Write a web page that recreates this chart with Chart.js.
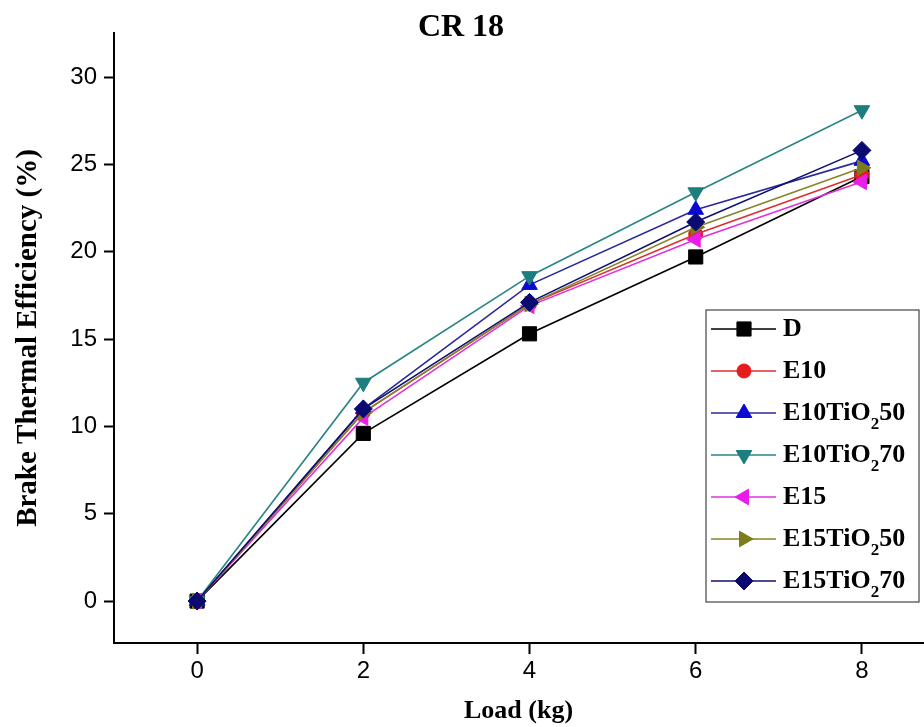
<!DOCTYPE html>
<html>
<head>
<meta charset="utf-8">
<script src="https://cdn.jsdelivr.net/npm/chart.js@4/dist/chart.umd.min.js"></script>
<style>
html,body{margin:0;padding:0;background:#fff;overflow:hidden;}
#wrap{width:924px;height:727px;position:relative;overflow:hidden;}
</style>
</head>
<body>
<div id="wrap"><canvas id="c" width="934" height="727"></canvas></div>
<script>
// ---- data ----
const loads = [0, 2, 4, 6, 8];
const D          = [0, 9.6, 15.3, 19.7, 24.3];
const E10        = [0, 10.8, 17.0, 21.0, 24.4];
const E10TiO2_50 = [0, 11.0, 18.1, 22.4, 25.2];
const E10TiO2_70 = [0, 12.5, 18.6, 23.4, 28.1];
const E15        = [0, 10.5, 16.9, 20.7, 24.0];
const E15TiO2_50 = [0, 10.8, 17.0, 21.4, 24.8];
const E15TiO2_70 = [0, 11.0, 17.1, 21.7, 25.8];
const xTicks = [0, 2, 4, 6, 8];
const yTicks = [0, 5, 10, 15, 20, 25, 30];
const chartTitle = 'CR 18';
const xTitle = 'Load (kg)';
const yTitle = 'Brake Thermal Efficiency (%)';
// legend labels: [main, subscript, tail]
const seriesNames = [
  ['D', '', ''],
  ['E10', '', ''],
  ['E10TiO', '2', '50'],
  ['E10TiO', '2', '70'],
  ['E15', '', ''],
  ['E15TiO', '2', '50'],
  ['E15TiO', '2', '70']
];

const seriesValues = [D, E10, E10TiO2_50, E10TiO2_70, E15, E15TiO2_50, E15TiO2_70];
const styles = [
  {line:'#000000', fill:'#000000', shape:'rect', r:10, rot:0},
  {line:'#d83030', fill:'#e51c1c', shape:'circle', r:7, rot:0},
  {line:'#2a2a9a', fill:'#0a0ad2', shape:'triangle', r:9, rot:0},
  {line:'#2b8585', fill:'#1c7e7e', shape:'triangle', r:9, rot:180},
  {line:'#e030e0', fill:'#e81ee8', shape:'triangle', r:9, rot:-90},
  {line:'#85852a', fill:'#7c7c1c', shape:'triangle', r:9, rot:90},
  {line:'#101070', fill:'#0a0a70', shape:'rectRot', r:9, rot:0}
];

const datasets = seriesValues.map((vals, i) => ({
  label: seriesNames[i].join(''),
  data: loads.map((x, j) => ({x: x, y: vals[j]})),
  borderColor: styles[i].line,
  backgroundColor: styles[i].fill,
  pointBackgroundColor: styles[i].fill,
  pointBorderColor: styles[i].fill,
  pointStyle: styles[i].shape,
  pointRadius: styles[i].r,
  pointRotation: styles[i].rot,
  pointBorderWidth: 1,
  borderWidth: 1.6,
  tension: 0,
  fill: false,
  clip: false,
  order: seriesValues.length - 1 - i
}));

function drawMarker(ctx, st, x, y) {
  ctx.save();
  ctx.translate(x, y);
  ctx.rotate(st.rot * Math.PI / 180);
  ctx.fillStyle = st.fill;
  ctx.strokeStyle = st.fill;
  ctx.lineWidth = 1;
  const r = st.r;
  ctx.beginPath();
  if (st.shape === 'rect') {
    const s = r * Math.SQRT1_2;
    ctx.rect(-s, -s, 2*s, 2*s);
  } else if (st.shape === 'circle') {
    ctx.arc(0, 0, r, 0, Math.PI*2);
  } else if (st.shape === 'triangle') {
    ctx.moveTo(0, -r);
    ctx.lineTo(r*Math.cos(Math.PI/6), r*0.5);
    ctx.lineTo(-r*Math.cos(Math.PI/6), r*0.5);
    ctx.closePath();
  } else if (st.shape === 'rectRot') {
    ctx.moveTo(0, -r); ctx.lineTo(r, 0); ctx.lineTo(0, r); ctx.lineTo(-r, 0); ctx.closePath();
  }
  ctx.fill();
  ctx.stroke();
  ctx.restore();
}

const overlay = {
  id: 'overlay',
  afterDraw(chart) {
    const ctx = chart.ctx;
    ctx.save();
    // title
    ctx.fillStyle = '#000';
    ctx.font = 'bold 32px "Liberation Serif"';
    ctx.textAlign = 'center';
    ctx.textBaseline = 'middle';
    ctx.fillText(chartTitle, 461, 28);
    // legend box
    const bx = 706, by = 310, bw = 213, bh = 292;
    ctx.fillStyle = '#fff';
    ctx.fillRect(bx, by, bw, bh);
    ctx.strokeStyle = '#444';
    ctx.lineWidth = 1.2;
    ctx.strokeRect(bx, by, bw, bh);
    const rowY0 = 329, rowH = 42;
    seriesNames.forEach((nm, i) => {
      const y = rowY0 + i * rowH;
      const st = styles[i];
      ctx.strokeStyle = st.line;
      ctx.lineWidth = 1.6;
      ctx.beginPath();
      ctx.moveTo(711, y); ctx.lineTo(776, y);
      ctx.stroke();
      drawMarker(ctx, st, 744, y);
      ctx.fillStyle = '#000';
      ctx.textAlign = 'left';
      ctx.textBaseline = 'middle';
      ctx.font = 'bold 26px "Liberation Serif"';
      let tx = 783;
      ctx.fillText(nm[0], tx, y);
      tx += ctx.measureText(nm[0]).width;
      if (nm[1]) {
        ctx.font = 'bold 17px "Liberation Serif"';
        ctx.fillText(nm[1], tx, y + 12);
        tx += ctx.measureText(nm[1]).width;
        ctx.font = 'bold 26px "Liberation Serif"';
        ctx.fillText(nm[2], tx, y);
      }
    });
    ctx.restore();
  }
};

new Chart(document.getElementById('c'), {
  type: 'line',
  data: { datasets: datasets },
  options: {
    responsive: false,
    animation: false,
    devicePixelRatio: 1,
    layout: { padding: { top: 33, right: 2, left: 0, bottom: 0 } },
    plugins: { legend: { display: false }, title: { display: false }, tooltip: { enabled: false } },
    scales: {
      x: {
        type: 'linear',
        min: -1,
        max: 8.735,
        afterBuildTicks: (s) => { s.ticks = xTicks.map(v => ({value: v})); },
        afterFit: (s) => { s.height = 84; },
        grid: { display: true, drawOnChartArea: false, drawTicks: true, tickLength: 11, tickWidth: 2, tickColor: '#000' },
        border: { display: true, color: '#000', width: 2 },
        ticks: { color: '#000', font: { family: '"Liberation Sans"', size: 24 }, padding: 3, maxRotation: 0, autoSkip: false },
        title: { display: true, text: xTitle, color: '#000', font: { family: '"Liberation Serif"', size: 26, weight: 'bold' }, padding: { top: 4, bottom: 0 } }
      },
      y: {
        type: 'linear',
        min: -2.4,
        max: 32.52,
        afterBuildTicks: (s) => { s.ticks = yTicks.map(v => ({value: v})); },
        afterFit: (s) => { s.width = 114; },
        grid: { display: true, drawOnChartArea: false, drawTicks: true, tickLength: 10, tickWidth: 2, tickColor: '#000' },
        border: { display: true, color: '#000', width: 2 },
        ticks: { color: '#000', font: { family: '"Liberation Sans"', size: 24 }, padding: 7, autoSkip: false },
        title: { display: true, text: yTitle, color: '#000', font: { family: '"Liberation Serif"', size: 29, weight: 'bold' }, padding: { top: 11, bottom: 0 } }
      }
    }
  },
  plugins: [overlay]
});
</script>
</body>
</html>
